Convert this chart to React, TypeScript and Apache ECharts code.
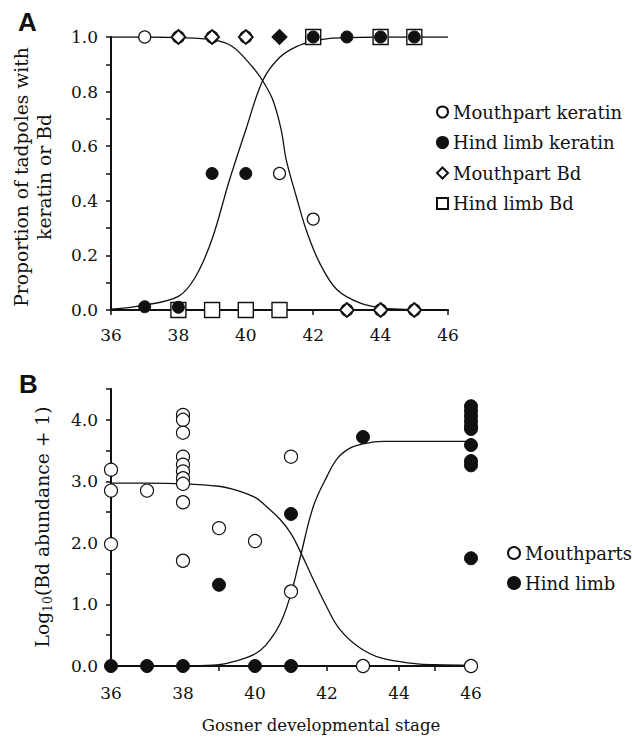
import React, { useEffect, useRef } from "react";
import * as echarts from "echarts";

// ---------- Panel A: proportions ----------
const mouthKeratinStage = [37, 38, 39, 40, 41, 42, 43, 44, 45];
const mouthKeratinProp = [1, 1, 1, 1, 0.5, 0.333, 0, 0, 0];
const hindKeratinStage = [37, 38, 39, 40, 41, 42, 43, 44, 45];
const hindKeratinProp = [0.012, 0.01, 0.5, 0.5, 1, 1, 1, 1, 1];
const mouthBdStage = [38, 39, 40, 41, 43, 44, 45];
const mouthBdProp = [1, 1, 1, 1, 0, 0, 0];
const hindBdStage = [38, 39, 40, 41, 42, 44, 45];
const hindBdProp = [0, 0, 0, 0, 1, 1, 1];
const filledDiamondStage = 41;

// fitted curves
const fitMouthA_x = [36, 37, 38, 39, 39.6, 40.2, 40.5, 40.8, 41.05, 41.2, 41.5, 41.8, 42.2, 42.7, 43.4, 44.1, 45, 46];
const fitMouthA_y = [1.0, 1.0, 0.998, 0.99, 0.965, 0.89, 0.84, 0.77, 0.66, 0.55, 0.415, 0.29, 0.17, 0.075, 0.025, 0.007, 0.002, 0.0];
const fitHindA_x = [36, 37, 38, 38.5, 39, 39.5, 40, 40.5, 41, 41.5, 42, 42.5, 43, 44, 45, 46];
const fitHindA_y = [0.003, 0.018, 0.05, 0.12, 0.26, 0.47, 0.66, 0.84, 0.925, 0.965, 0.985, 0.995, 0.998, 1.0, 1.0, 1.0];

// ---------- Panel B: log10 abundance ----------
const mouthStageB = [36, 36, 36, 37, 38, 38, 38, 38, 38, 38, 38, 38, 38, 38, 39, 40, 41, 41, 43, 46];
const mouthLogB = [3.19, 2.85, 1.98, 2.85, 4.08, 4.0, 3.79, 3.4, 3.27, 3.16, 3.05, 2.96, 2.66, 1.71, 2.24, 2.03, 3.4, 1.21, 0, 0];
const hindStageB = [36, 37, 38, 39, 40, 41, 41, 43, 46, 46, 46, 46, 46, 46, 46, 46, 46, 46];
const hindLogB = [0, 0, 0, 1.32, 0, 0, 2.47, 3.72, 4.22, 4.14, 4.06, 3.98, 3.9, 3.85, 3.59, 3.33, 3.26, 1.75];

const fitMouthB_x = [36, 37, 38, 39, 39.4, 40, 40.3, 40.7, 41, 41.25, 41.6, 42, 42.35, 42.9, 43.5, 44.5, 45, 46];
const fitMouthB_y = [2.97, 2.97, 2.96, 2.92, 2.87, 2.74, 2.6, 2.38, 2.15, 1.87, 1.43, 0.95, 0.6, 0.3, 0.13, 0.035, 0.02, 0.01];
const fitHindB_x = [36, 37, 38, 38.5, 39, 39.4, 39.95, 40.3, 40.7, 41, 41.25, 41.62, 42, 42.3, 42.64, 43, 43.56, 44, 45, 46];
const fitHindB_y = [0, 0, 0.002, 0.006, 0.02, 0.07, 0.18, 0.34, 0.69, 1.18, 1.75, 2.59, 3.08, 3.38, 3.54, 3.61, 3.65, 3.65, 3.65, 3.65];

const xTicksA = [36, 38, 40, 42, 44, 46];

const INK = "#111";
const SERIF = "DejaVu Serif";

const pairs = (xs: number[], ys: number[]) => xs.map((x, i) => [x, ys[i]]);

export default function App() {
  const ref = useRef<HTMLDivElement>(null);

  useEffect(() => {
    if (!ref.current) return;
    const chart = echarts.init(ref.current, null, { renderer: "svg" });

    const axisCommon = {
      axisLine: { show: true, onZero: false, lineStyle: { color: INK, width: 2 } },
      axisTick: { show: true, inside: false, length: 5, lineStyle: { color: INK, width: 1.5 } },
      splitLine: { show: false },
      axisLabel: { color: INK, fontFamily: SERIF, fontSize: 17, margin: 13 },
    };

    const openStyle = { color: "#fff", borderColor: INK, borderWidth: 1.2, opacity: 1 };
    const filledStyle = { color: INK, borderColor: INK, borderWidth: 1, opacity: 1 };
    const curveStyle = { color: INK, width: 1.3 };

    const option: any = {
      animation: false,
      backgroundColor: "#fff",
      grid: [
        { left: 111, top: 37, width: 337, height: 273 },
        { left: 111, top: 389, width: 360, height: 277 },
      ],
      xAxis: [
        {
          ...axisCommon,
          type: "value",
          gridIndex: 0,
          min: xTicksA[0],
          max: xTicksA[xTicksA.length - 1],
          interval: 2,
          axisLabel: { ...axisCommon.axisLabel, margin: 16 },
        },
        {
          ...axisCommon,
          type: "value",
          gridIndex: 1,
          min: 36,
          max: 46,
          interval: 1,
          axisLabel: {
            ...axisCommon.axisLabel,
            margin: 18,
            formatter: (v: number) => (v % 2 === 0 ? String(v) : ""),
          },
        },
      ],
      yAxis: [
        {
          ...axisCommon,
          type: "value",
          gridIndex: 0,
          min: 0,
          max: 1,
          interval: 0.1,
          axisLabel: {
            ...axisCommon.axisLabel,
            formatter: (v: number) => (Math.round(v * 10) % 2 === 0 ? v.toFixed(1) : ""),
          },
        },
        {
          ...axisCommon,
          type: "value",
          gridIndex: 1,
          min: 0,
          max: 4.5,
          interval: 0.5,
          axisLabel: {
            ...axisCommon.axisLabel,
            formatter: (v: number) =>
              Math.abs(v - Math.round(v)) < 1e-6 && v < 4.4 ? v.toFixed(1) : "",
          },
        },
      ],
      legend: [
        {
          orient: "vertical",
          left: 436,
          top: 103,
          padding: 0,
          itemWidth: 11,
          itemHeight: 11,
          itemGap: 12.5,
          selectedMode: false,
          textStyle: { fontFamily: SERIF, fontSize: 18, color: INK, lineHeight: 18 },
          data: [
            { name: "Mouthpart keratin", icon: "circle" },
            { name: "Hind limb keratin", icon: "circle" },
            { name: "Mouthpart Bd", icon: "diamond" },
            { name: "Hind limb Bd", icon: "rect" },
          ],
        },
        {
          orient: "vertical",
          left: 507,
          top: 544,
          padding: 0,
          itemWidth: 12,
          itemHeight: 12,
          itemGap: 12,
          selectedMode: false,
          textStyle: { fontFamily: SERIF, fontSize: 18, color: INK, lineHeight: 18 },
          data: [
            { name: "Mouthparts", icon: "circle" },
            { name: "Hind limb", icon: "circle" },
          ],
        },
      ],
      series: [
        // Panel A curves
        {
          name: "fitMouthA",
          type: "line",
          xAxisIndex: 0,
          yAxisIndex: 0,
          data: pairs(fitMouthA_x, fitMouthA_y),
          showSymbol: false,
          smooth: 0.35,
          lineStyle: curveStyle,
          z: 1,
        },
        {
          name: "fitHindA",
          type: "line",
          xAxisIndex: 0,
          yAxisIndex: 0,
          data: pairs(fitHindA_x, fitHindA_y),
          showSymbol: false,
          smooth: 0.35,
          lineStyle: curveStyle,
          z: 1,
        },
        {
          name: "Hind limb Bd",
          type: "scatter",
          xAxisIndex: 0,
          yAxisIndex: 0,
          symbol: "rect",
          symbolSize: 15,
          data: pairs(hindBdStage, hindBdProp),
          itemStyle: { color: "#fff", borderColor: INK, borderWidth: 1.4, opacity: 1 },
          z: 2,
        },
        {
          name: "Mouthpart keratin",
          type: "scatter",
          xAxisIndex: 0,
          yAxisIndex: 0,
          symbol: "circle",
          symbolSize: 12,
          data: pairs(mouthKeratinStage, mouthKeratinProp),
          itemStyle: openStyle,
          z: 3,
        },
        {
          name: "Mouthpart Bd",
          type: "scatter",
          xAxisIndex: 0,
          yAxisIndex: 0,
          symbol: "diamond",
          symbolSize: 14,
          data: pairs(mouthBdStage, mouthBdProp),
          itemStyle: { color: "#fff", borderColor: INK, borderWidth: 1.8, opacity: 1 },
          z: 4,
        },
        {
          name: "Hind limb keratin",
          type: "scatter",
          xAxisIndex: 0,
          yAxisIndex: 0,
          symbol: (val: number[]) => (val[0] === filledDiamondStage ? "diamond" : "circle"),
          symbolSize: (val: number[]) => (val[0] === filledDiamondStage ? 14 : 12),
          data: pairs(hindKeratinStage, hindKeratinProp),
          itemStyle: filledStyle,
          z: 5,
        },
        // Panel B curves
        {
          name: "fitMouthB",
          type: "line",
          xAxisIndex: 1,
          yAxisIndex: 1,
          data: pairs(fitMouthB_x, fitMouthB_y),
          showSymbol: false,
          smooth: 0.4,
          lineStyle: curveStyle,
          z: 1,
        },
        {
          name: "fitHindB",
          type: "line",
          xAxisIndex: 1,
          yAxisIndex: 1,
          data: pairs(fitHindB_x, fitHindB_y),
          showSymbol: false,
          smooth: 0.4,
          lineStyle: curveStyle,
          z: 1,
        },
        {
          name: "Mouthparts",
          type: "scatter",
          xAxisIndex: 1,
          yAxisIndex: 1,
          symbol: "circle",
          symbolSize: 13,
          data: pairs(mouthStageB, mouthLogB),
          itemStyle: openStyle,
          z: 3,
        },
        {
          name: "Hind limb",
          type: "scatter",
          xAxisIndex: 1,
          yAxisIndex: 1,
          symbol: "circle",
          symbolSize: 13,
          data: pairs(hindStageB, hindLogB),
          itemStyle: filledStyle,
          z: 4,
        },
      ],
      graphic: [
        {
          type: "text",
          left: 18,
          top: 9,
          style: { text: "A", font: "bold 26px Liberation Sans", fill: INK },
        },
        {
          type: "text",
          left: 19,
          top: 371,
          style: { text: "B", font: "bold 26px Liberation Sans", fill: INK },
        },
        {
          type: "text",
          x: 33,
          y: 177,
          rotation: Math.PI / 2,
          style: {
            text: "Proportion of tadpoles with\nkeratin or Bd",
            fontFamily: SERIF,
            fontSize: 18.7,
            lineHeight: 23,
            fill: INK,
            align: "center",
            verticalAlign: "middle",
          },
        },
        {
          type: "text",
          x: 42,
          y: 527,
          rotation: Math.PI / 2,
          style: {
            text: "{a|Log}{s|10}{a|(Bd abundance + 1)}",
            fill: INK,
            align: "center",
            verticalAlign: "middle",
            rich: {
              a: { fontFamily: SERIF, fontSize: 18.7, lineHeight: 24, fill: INK },
              s: { fontFamily: SERIF, fontSize: 12.5, lineHeight: 14, verticalAlign: "bottom", fill: INK },
            },
          },
        },
        {
          type: "text",
          x: 321,
          y: 725,
          style: {
            text: "Gosner developmental stage",
            fontFamily: SERIF,
            fontSize: 16.5,
            fill: INK,
            align: "center",
            verticalAlign: "middle",
          },
        },
      ],
    };

    chart.setOption(option);
    return () => chart.dispose();
  }, []);

  return (
    <div
      ref={ref}
      style={{ position: "absolute", left: 0, top: 0, width: 633, height: 737, background: "#fff" }}
    />
  );
}
